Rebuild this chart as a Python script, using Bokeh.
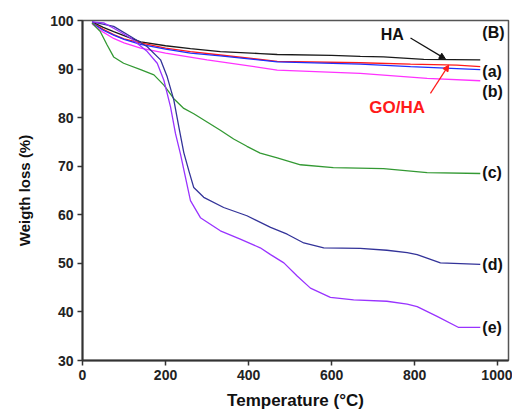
from bokeh.plotting import figure
from bokeh.models import Range1d, FixedTicker, Label, Arrow, NormalHead
from bokeh.embed import file_html
from bokeh.resources import INLINE

# ---- data ----
ha_t = [23, 50, 75, 100, 140, 200, 260, 332, 428, 469, 600, 669, 725, 822, 958]
ha_w = [99.7, 98.6, 97.7, 96.9, 95.6, 94.8, 94.2, 93.6, 93.2, 93.0, 92.8, 92.6, 92.5, 92.0, 91.9]

goha_t = [23, 50, 75, 100, 140, 200, 260, 332, 469, 669, 790, 902, 958]
goha_w = [99.5, 98.2, 97.1, 96.2, 95.4, 94.3, 93.6, 92.9, 91.6, 91.3, 91.0, 90.8, 90.5]

a_t = [23, 50, 75, 100, 140, 200, 260, 332, 469, 669, 790, 958]
a_w = [99.5, 98.0, 97.0, 96.1, 95.1, 94.1, 93.3, 92.7, 91.5, 91.0, 90.5, 89.9]

b_t = [23, 50, 75, 100, 140, 200, 300, 469, 669, 830, 958]
b_w = [99.3, 97.6, 96.3, 95.4, 94.3, 93.3, 91.9, 89.8, 89.1, 88.1, 87.6]

c_t = [23, 43, 59, 75, 99, 140, 172, 196, 220, 244, 268, 300, 332, 364, 396, 428, 469, 525, 604, 725, 830, 958]
c_w = [99.5, 97.7, 95.0, 92.5, 91.2, 89.9, 88.8, 86.7, 83.9, 81.9, 80.8, 79.1, 77.4, 75.6, 74.1, 72.7, 71.7, 70.3, 69.7, 69.5, 68.7, 68.5]

d_t = [23, 75, 116, 156, 188, 204, 220, 232, 244, 256, 268, 292, 340, 396, 453, 493, 533, 581, 669, 733, 782, 806, 862, 958]
d_w = [99.7, 98.8, 96.7, 94.6, 91.9, 88.4, 83.6, 78.1, 72.8, 69.1, 65.6, 63.6, 61.5, 59.8, 57.4, 56.0, 54.2, 53.2, 53.1, 52.7, 52.2, 51.8, 50.1, 49.8]

e_t = [23, 51, 75, 116, 156, 180, 196, 212, 224, 236, 248, 260, 284, 332, 380, 428, 453, 485, 517, 549, 597, 653, 733, 782, 806, 854, 906, 958]
e_w = [99.7, 99.5, 98.4, 96.4, 93.6, 91.2, 87.7, 82.2, 76.7, 72.5, 67.7, 62.9, 59.4, 56.7, 55.0, 53.2, 51.8, 50.1, 47.4, 44.9, 43.0, 42.5, 42.2, 41.6, 41.1, 39.1, 36.8, 36.8]

x_ticks = [0, 200, 400, 600, 800, 1000]
y_ticks = [30, 40, 50, 60, 70, 80, 90, 100]

curve_labels = ["(B)", "(a)", "(b)", "(c)", "(d)", "(e)"]
curve_label_y = [97.5, 89.4, 85.4, 68.7, 49.8, 36.8]

FONT = "Liberation Sans"

p = figure(width=512, height=414, output_backend="svg", toolbar_location=None,
           x_range=Range1d(0, 1026), y_range=Range1d(30, 100))
p.min_border_left = 82
p.min_border_right = 4
p.min_border_top = 20
p.min_border_bottom = 54
p.background_fill_color = "white"
p.border_fill_color = "white"
p.outline_line_color = "#555555"
p.outline_line_width = 1.5
p.xgrid.visible = False
p.ygrid.visible = False

for ax in (p.xaxis[0], p.yaxis[0]):
    ax.axis_line_color = "#333333"
    ax.axis_line_width = 2
    ax.major_tick_line_color = "#333333"
    ax.major_tick_line_width = 1.5
    ax.major_tick_out = 5
    ax.major_tick_in = 0
    ax.minor_tick_line_color = None
    ax.major_label_text_font = FONT
    ax.major_label_text_font_style = "bold"
    ax.major_label_text_font_size = "14px"
    ax.major_label_text_color = "#222222"
    ax.axis_label_text_font = FONT
    ax.axis_label_text_font_style = "bold"
    ax.axis_label_text_color = "#111111"

p.xaxis[0].axis_label_text_font_size = "17px"
p.yaxis[0].axis_label_text_font_size = "15px"
p.xaxis[0].ticker = FixedTicker(ticks=x_ticks)
p.yaxis[0].ticker = FixedTicker(ticks=y_ticks)
p.xaxis[0].axis_label = "Temperature (°C)"
p.yaxis[0].axis_label = "Weigth loss (%)"
p.xaxis[0].axis_label_standoff = 8
p.yaxis[0].axis_label_standoff = 14
p.xaxis[0].major_label_standoff = 4
p.yaxis[0].major_label_standoff = 4

lw = 1.3
p.line(ha_t, ha_w, line_color="#1a1a1a", line_width=lw)
p.line(goha_t, goha_w, line_color="#ff1a1a", line_width=lw)
p.line(a_t, a_w, line_color="#1f2fff", line_width=lw)
p.line(b_t, b_w, line_color="#ff33ff", line_width=lw)
p.line(c_t, c_w, line_color="#339933", line_width=lw)
p.line(d_t, d_w, line_color="#333399", line_width=lw)
p.line(e_t, e_w, line_color="#9933ff", line_width=lw)

for lab, yv in zip(curve_labels, curve_label_y):
    p.add_layout(Label(x=963, y=yv, text=lab, text_font=FONT, text_font_style="bold",
                       text_font_size="16px", text_color="#111111",
                       text_align="left", text_baseline="middle"))

p.add_layout(Label(x=746, y=97.2, text="HA", text_font=FONT, text_font_style="bold",
                   text_font_size="16px", text_color="#111111",
                   text_align="center", text_baseline="middle"))
p.add_layout(Label(x=758, y=82.1, text="GO/HA", text_font=FONT, text_font_style="bold",
                   text_font_size="17px", text_color="#ff1a1a",
                   text_align="center", text_baseline="middle"))

p.add_layout(Arrow(x_start=790, y_start=96.4, x_end=874, y_end=92.1,
                   line_color="#111111", line_width=1.2,
                   end=NormalHead(size=6, fill_color="#111111", line_color="#111111")))
p.add_layout(Arrow(x_start=838, y_start=85.0, x_end=882, y_end=90.8,
                   line_color="#ff1a1a", line_width=1.2,
                   end=NormalHead(size=6, fill_color="#ff1a1a", line_color="#ff1a1a")))

open("out.html", "w").write(file_html(p, INLINE))
